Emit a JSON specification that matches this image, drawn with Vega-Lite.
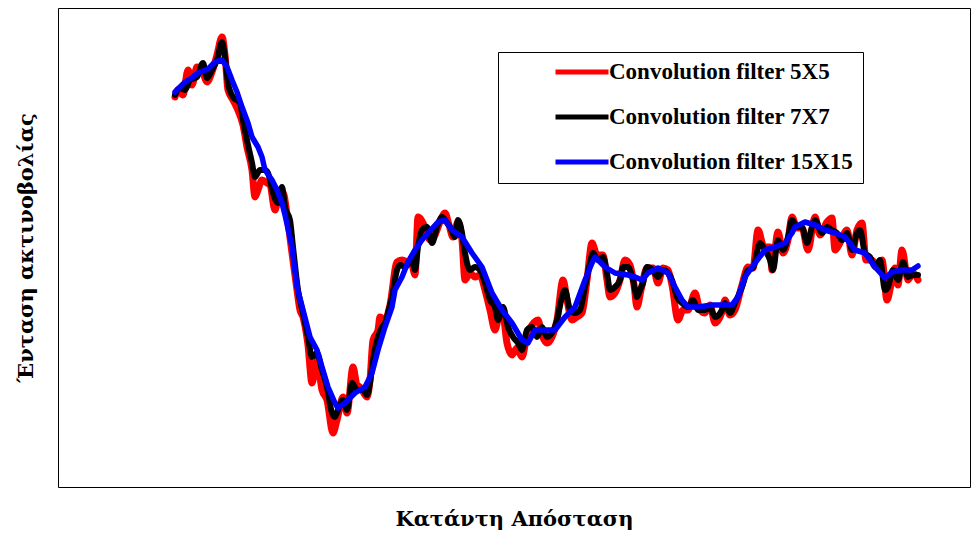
{
  "$schema": "https://vega.github.io/schema/vega-lite/v6.json",
  "width": 912,
  "height": 479,
  "autosize": {"type": "none"},
  "padding": {"left": 58, "top": 8, "right": 1, "bottom": 47},
  "background": "white",
  "config": {"view": {"stroke": "black", "strokeWidth": 1}, "font": "Liberation Serif"},
  "datasets": {
    "red": [{"d":117,"v":390},{"d":120,"v":397},{"d":125,"v":392},{"d":130,"v":417},{"d":134,"v":402},{"d":139,"v":420},{"d":144,"v":417},{"d":149,"v":405},{"d":154,"v":415},{"d":159,"v":432},{"d":164,"v":450},{"d":167,"v":432},{"d":170,"v":397},{"d":175,"v":387},{"d":179,"v":379},{"d":185,"v":362},{"d":189,"v":340},{"d":194,"v":317},{"d":197,"v":290},{"d":200,"v":297},{"d":204,"v":307},{"d":209,"v":304},{"d":212,"v":302},{"d":217,"v":277},{"d":222,"v":297},{"d":226,"v":292},{"d":229,"v":272},{"d":234,"v":234},{"d":239,"v":197},{"d":242,"v":177},{"d":245,"v":170},{"d":250,"v":142},{"d":254,"v":104},{"d":259,"v":127},{"d":264,"v":97},{"d":269,"v":87},{"d":275,"v":54},{"d":279,"v":67},{"d":285,"v":90},{"d":289,"v":74},{"d":295,"v":120},{"d":299,"v":102},{"d":302,"v":100},{"d":309,"v":90},{"d":312,"v":107},{"d":315,"v":147},{"d":320,"v":157},{"d":322,"v":170},{"d":327,"v":167},{"d":332,"v":182},{"d":339,"v":225},{"d":344,"v":227},{"d":349,"v":225},{"d":354,"v":222},{"d":357,"v":212},{"d":360,"v":270},{"d":367,"v":260},{"d":372,"v":247},{"d":377,"v":252},{"d":382,"v":265},{"d":387,"v":274},{"d":391,"v":262},{"d":395,"v":250},{"d":400,"v":265},{"d":404,"v":247},{"d":407,"v":207},{"d":412,"v":214},{"d":417,"v":210},{"d":422,"v":212},{"d":427,"v":197},{"d":432,"v":177},{"d":437,"v":157},{"d":442,"v":175},{"d":445,"v":172},{"d":449,"v":144},{"d":454,"v":132},{"d":459,"v":139},{"d":464,"v":130},{"d":469,"v":152},{"d":474,"v":162},{"d":480,"v":167},{"d":484,"v":152},{"d":489,"v":144},{"d":494,"v":150},{"d":499,"v":167},{"d":505,"v":207},{"d":509,"v":187},{"d":514,"v":167},{"d":519,"v":170},{"d":524,"v":174},{"d":529,"v":207},{"d":534,"v":244},{"d":539,"v":232},{"d":545,"v":232},{"d":549,"v":207},{"d":552,"v":190},{"d":557,"v":194},{"d":562,"v":207},{"d":567,"v":227},{"d":572,"v":222},{"d":576,"v":202},{"d":579,"v":180},{"d":583,"v":197},{"d":589,"v":219},{"d":595,"v":219},{"d":600,"v":204},{"d":605,"v":219},{"d":610,"v":217},{"d":614,"v":202},{"d":620,"v":167},{"d":625,"v":177},{"d":630,"v":177},{"d":637,"v":194},{"d":642,"v":177},{"d":647,"v":174},{"d":652,"v":182},{"d":657,"v":164},{"d":664,"v":175},{"d":667,"v":187},{"d":672,"v":172},{"d":677,"v":177},{"d":684,"v":202},{"d":690,"v":220},{"d":695,"v":219},{"d":700,"v":257},{"d":706,"v":240},{"d":712,"v":240},{"d":714,"v":217},{"d":720,"v":255},{"d":725,"v":234},{"d":730,"v":247},{"d":734,"v":270},{"d":739,"v":259},{"d":744,"v":259},{"d":750,"v":237},{"d":757,"v":270},{"d":762,"v":252},{"d":769,"v":265},{"d":774,"v":269},{"d":777,"v":237},{"d":782,"v":244},{"d":789,"v":257},{"d":794,"v":232},{"d":799,"v":257},{"d":804,"v":264},{"d":808,"v":227},{"d":814,"v":227},{"d":819,"v":219},{"d":824,"v":227},{"d":829,"v":187},{"d":833,"v":202},{"d":837,"v":219},{"d":840,"v":202},{"d":844,"v":237},{"d":850,"v":207},{"d":855,"v":214},{"d":860,"v":207}],
    "black": [{"d":117,"v":392},{"d":122,"v":399},{"d":127,"v":397},{"d":132,"v":407},{"d":139,"v":410},{"d":145,"v":424},{"d":149,"v":409},{"d":154,"v":417},{"d":159,"v":427},{"d":164,"v":445},{"d":167,"v":430},{"d":170,"v":404},{"d":175,"v":390},{"d":182,"v":384},{"d":185,"v":367},{"d":189,"v":347},{"d":194,"v":324},{"d":197,"v":310},{"d":202,"v":317},{"d":207,"v":317},{"d":210,"v":314},{"d":215,"v":294},{"d":220,"v":284},{"d":224,"v":300},{"d":227,"v":280},{"d":232,"v":267},{"d":235,"v":240},{"d":240,"v":197},{"d":245,"v":174},{"d":250,"v":150},{"d":254,"v":130},{"d":259,"v":134},{"d":264,"v":117},{"d":269,"v":100},{"d":274,"v":74},{"d":277,"v":70},{"d":280,"v":77},{"d":285,"v":87},{"d":289,"v":77},{"d":294,"v":104},{"d":299,"v":97},{"d":305,"v":97},{"d":309,"v":92},{"d":312,"v":104},{"d":315,"v":127},{"d":320,"v":150},{"d":324,"v":160},{"d":327,"v":164},{"d":330,"v":174},{"d":334,"v":190},{"d":339,"v":217},{"d":342,"v":222},{"d":347,"v":220},{"d":354,"v":227},{"d":357,"v":217},{"d":360,"v":240},{"d":364,"v":257},{"d":369,"v":260},{"d":374,"v":244},{"d":379,"v":260},{"d":384,"v":270},{"d":389,"v":264},{"d":392,"v":260},{"d":397,"v":250},{"d":400,"v":267},{"d":404,"v":254},{"d":407,"v":234},{"d":412,"v":217},{"d":417,"v":220},{"d":422,"v":217},{"d":427,"v":204},{"d":432,"v":187},{"d":437,"v":180},{"d":440,"v":167},{"d":445,"v":180},{"d":450,"v":160},{"d":455,"v":150},{"d":460,"v":144},{"d":464,"v":137},{"d":469,"v":157},{"d":474,"v":160},{"d":479,"v":150},{"d":484,"v":160},{"d":489,"v":150},{"d":494,"v":154},{"d":499,"v":167},{"d":504,"v":190},{"d":507,"v":197},{"d":512,"v":177},{"d":517,"v":174},{"d":522,"v":177},{"d":527,"v":200},{"d":532,"v":224},{"d":535,"v":234},{"d":540,"v":227},{"d":545,"v":230},{"d":549,"v":214},{"d":552,"v":197},{"d":557,"v":200},{"d":562,"v":207},{"d":565,"v":220},{"d":570,"v":220},{"d":575,"v":207},{"d":579,"v":190},{"d":582,"v":197},{"d":585,"v":204},{"d":589,"v":220},{"d":595,"v":217},{"d":600,"v":210},{"d":605,"v":217},{"d":610,"v":214},{"d":614,"v":207},{"d":619,"v":190},{"d":624,"v":184},{"d":630,"v":180},{"d":635,"v":187},{"d":640,"v":177},{"d":647,"v":177},{"d":652,"v":180},{"d":657,"v":170},{"d":664,"v":177},{"d":667,"v":184},{"d":672,"v":174},{"d":677,"v":184},{"d":684,"v":200},{"d":690,"v":217},{"d":695,"v":219},{"d":702,"v":244},{"d":707,"v":237},{"d":712,"v":227},{"d":715,"v":217},{"d":720,"v":247},{"d":725,"v":237},{"d":730,"v":250},{"d":734,"v":267},{"d":739,"v":260},{"d":744,"v":260},{"d":749,"v":244},{"d":754,"v":260},{"d":757,"v":267},{"d":764,"v":254},{"d":769,"v":260},{"d":774,"v":257},{"d":779,"v":254},{"d":784,"v":247},{"d":789,"v":254},{"d":794,"v":237},{"d":799,"v":254},{"d":802,"v":257},{"d":807,"v":234},{"d":812,"v":230},{"d":817,"v":220},{"d":822,"v":227},{"d":827,"v":197},{"d":830,"v":200},{"d":835,"v":217},{"d":840,"v":207},{"d":845,"v":225},{"d":850,"v":210},{"d":855,"v":212},{"d":860,"v":212}],
    "blue": [{"d":117,"v":395},{"d":122,"v":400},{"d":127,"v":405},{"d":132,"v":408},{"d":140,"v":414},{"d":150,"v":418},{"d":157,"v":425},{"d":164,"v":427},{"d":169,"v":420},{"d":174,"v":407},{"d":179,"v":395},{"d":184,"v":380},{"d":190,"v":364},{"d":194,"v":350},{"d":200,"v":340},{"d":204,"v":330},{"d":207,"v":317},{"d":214,"v":307},{"d":219,"v":297},{"d":224,"v":284},{"d":227,"v":272},{"d":234,"v":240},{"d":239,"v":200},{"d":245,"v":177},{"d":252,"v":150},{"d":259,"v":137},{"d":264,"v":120},{"d":270,"v":100},{"d":277,"v":84},{"d":280,"v":79},{"d":287,"v":84},{"d":297,"v":94},{"d":307,"v":100},{"d":314,"v":114},{"d":320,"v":137},{"d":327,"v":160},{"d":334,"v":180},{"d":337,"v":197},{"d":344,"v":210},{"d":350,"v":225},{"d":357,"v":237},{"d":364,"v":247},{"d":370,"v":254},{"d":380,"v":265},{"d":387,"v":267},{"d":394,"v":257},{"d":404,"v":250},{"d":414,"v":234},{"d":424,"v":220},{"d":434,"v":194},{"d":444,"v":177},{"d":454,"v":164},{"d":464,"v":147},{"d":470,"v":144},{"d":477,"v":157},{"d":487,"v":157},{"d":497,"v":157},{"d":507,"v":170},{"d":517,"v":180},{"d":527,"v":207},{"d":534,"v":224},{"d":537,"v":230},{"d":547,"v":220},{"d":557,"v":214},{"d":570,"v":212},{"d":577,"v":210},{"d":584,"v":207},{"d":590,"v":214},{"d":600,"v":219},{"d":610,"v":214},{"d":617,"v":200},{"d":624,"v":187},{"d":630,"v":180},{"d":640,"v":180},{"d":654,"v":182},{"d":664,"v":182},{"d":674,"v":182},{"d":680,"v":190},{"d":687,"v":210},{"d":697,"v":224},{"d":707,"v":237},{"d":717,"v":240},{"d":727,"v":244},{"d":734,"v":254},{"d":737,"v":260},{"d":747,"v":265},{"d":757,"v":262},{"d":767,"v":257},{"d":777,"v":254},{"d":787,"v":250},{"d":797,"v":237},{"d":807,"v":234},{"d":817,"v":220},{"d":827,"v":209},{"d":834,"v":215},{"d":844,"v":217},{"d":854,"v":217},{"d":860,"v":221}]
  },
  "layer": [
    {
      "data": {"name": "red"},
      "mark": {"type": "line", "interpolate": "monotone", "strokeCap": "round", "strokeJoin": "round", "strokeWidth": 7},
      "encoding": {
        "x": {"field": "d", "type": "quantitative", "scale": {"domain": [0, 912], "nice": false, "zero": false}, "axis": {"title": "Κατάντη Απόσταση", "labels": false, "ticks": false, "domain": false, "grid": false, "titleFontSize": 21, "titleFontWeight": "bold", "titleFont": "DejaVu Serif", "titleColor": "black", "titlePadding": 21}},
        "y": {"field": "v", "type": "quantitative", "scale": {"domain": [0, 479], "nice": false, "zero": false}, "axis": {"title": "Ένταση ακτινοβολίας", "labels": false, "ticks": false, "domain": false, "grid": false, "titleFontSize": 21, "titleFontWeight": "bold", "titleFont": "DejaVu Serif", "titleColor": "black", "titlePadding": 22}},
        "color": {"datum": "Convolution filter 5X5", "type": "nominal", "scale": {"domain": ["Convolution filter 5X5", "Convolution filter 7X7", "Convolution filter 15X15"], "range": ["#ff0000", "#000000", "#0000ff"]},
          "legend": {"title": null, "orient": "none", "legendX": 440, "legendY": 44, "strokeColor": "black", "fillColor": "white", "padding": 9, "symbolType": "stroke", "symbolSize": 2809, "symbolStrokeWidth": 5, "symbolOffset": 46, "labelOffset": -2, "clipHeight": 22, "rowPadding": 22, "labelFont": "Liberation Serif", "labelFontSize": 23, "labelFontWeight": "bold", "labelColor": "black", "labelLimit": 400}}
      }
    },
    {
      "data": {"name": "black"},
      "mark": {"type": "line", "interpolate": "monotone", "strokeCap": "round", "strokeJoin": "round", "strokeWidth": 6},
      "encoding": {
        "x": {"field": "d", "type": "quantitative"},
        "y": {"field": "v", "type": "quantitative"},
        "color": {"datum": "Convolution filter 7X7", "type": "nominal"}
      }
    },
    {
      "data": {"name": "blue"},
      "mark": {"type": "line", "strokeCap": "round", "strokeJoin": "round", "strokeWidth": 5.5},
      "encoding": {
        "x": {"field": "d", "type": "quantitative"},
        "y": {"field": "v", "type": "quantitative"},
        "color": {"datum": "Convolution filter 15X15", "type": "nominal"}
      }
    }
  ]
}
